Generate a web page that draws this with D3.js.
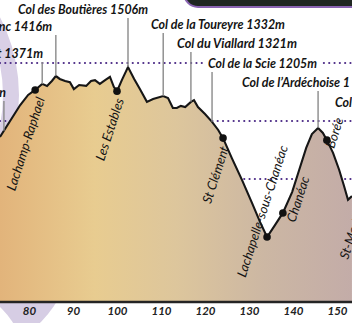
<!DOCTYPE html>
<html><head><meta charset="utf-8">
<script src="https://cdn.jsdelivr.net/npm/d3@7"></script>
<style>html,body{margin:0;padding:0;background:#fff;overflow:hidden}</style>
</head><body>
<svg id="c" width="352" height="323"></svg>
<script>
// ---------- DATA ----------
const profileKm = [73.4,75.7,78.0,79.8,81.4,83.0,84.1,85.2,86.1,87.0,88.2,89.3,90.2,91.4,93.0,94.1,95.0,96.1,97.3,98.4,99.3,100.0,101.1,102.5,103.9,105.2,106.8,108.2,110.5,111.6,112.7,113.6,114.5,115.5,116.8,117.5,118.4,120.0,121.6,123.0,124.1,126.1,128.4,130.7,132.5,134.1,135.9,137.7,139.8,141.4,143.0,144.3,145.7,146.8,147.7,149.1,150.5,151.6,152.5,153.4];
const profileElev = [1145,1200,1255,1290,1307,1328,1321,1338,1355,1345,1338,1334,1310,1324,1321,1338,1341,1328,1341,1352,1317,1303,1341,1386,1345,1310,1266,1276,1286,1279,1245,1245,1252,1248,1266,1272,1248,1224,1197,1169,1141,1072,997,917,852,800,841,883,955,1031,1107,1155,1176,1159,1134,1090,1031,976,928,941];
const gridElev = [1000,1200,1400];
const axisTicks = [80,90,100,110,120,130,140,150];
const colNames = ["Col des Boutières 1506m","nc 1416m","t 1371m","n","Col de la Toureyre 1332m","Col du Viallard 1321m","Col de la Scie 1205m","Col de l’Ardéchoise 1","Col"];
const colKm = [102.5,86.1,83.0,74.3,110.5,116.8,121.6,145.7,null];
const townNames = ["Lachamp-Raphael","Les Estables","St Clément","Lachapelle-sous-Chanéac","Chanéac","Borée","St-Martial"];
const townKm = [81.4,100.0,124.1,134.1,137.7,147.7,null];

// ---------- LAYOUT ----------
const W = 352, H = 323, baseY = 302;
const colLayout = [
  {a:"start", x:18,  y:14, w:130},
  {a:"end",   x:52,  y:31},
  {a:"end",   x:43,  y:58},
  {a:"end",   x:6,   y:97},
  {a:"start", x:151, y:29, w:134},
  {a:"start", x:177, y:48, w:120},
  {a:"start", x:208, y:68, w:109, bg:true},
  {a:"start", x:242, y:87},
  {a:"start", x:335, y:107}
];
const townLayout = [
  {a:"end", x:45, y:99},
  {a:"end", x:124, y:100},
  {a:"end", x:229, y:148},
  {a:"end", x:288, y:147},
  {a:"start", x:295, y:223},
  {a:"start", x:334, y:149},
  {a:"start", x:348, y:260}
];

const svg = d3.select("#c");
const x = d3.scaleLinear().domain([80,150]).range([29,337]);
const y = d3.scaleLinear().domain([1000,1400]).range([179,63]);
const profile = profileKm.map((k,i)=>({k, e:profileElev[i]}));
const bis = d3.bisector(d=>d.k).left;
function elevAt(k){
  let i = bis(profile,k);
  if(i<=0) return profile[0].e;
  if(i>=profile.length) return profile[profile.length-1].e;
  const a=profile[i-1], b=profile[i];
  return a.e + (b.e-a.e)*(k-a.k)/(b.k-a.k);
}

svg.append("rect").attr("width",W).attr("height",H).attr("fill","#fff");

const defs = svg.append("defs");
const g = defs.append("linearGradient").attr("id","fillg").attr("gradientUnits","userSpaceOnUse")
  .attr("x1",0).attr("x2",W).attr("y1",0).attr("y2",0);
[["0","#e2b47b"],["0.27","#e8cc90"],["0.5","#ddc69c"],["0.75","#ccb7a3"],["1","#c3aca8"]]
  .forEach(s=>g.append("stop").attr("offset",s[0]).attr("stop-color",s[1]));

// decorations: lavender ring top-left, crescent bottom-left, dark photo top
const arcTL = d3.arc()({innerRadius:153, outerRadius:169, startAngle:0, endAngle:2*Math.PI});
svg.append("path").attr("d",arcTL).attr("transform","translate(-150,95)").attr("fill","#d9d0e6");
svg.append("circle").attr("cx",-30).attr("cy",250).attr("r",101).attr("fill","#d6cde4");
svg.append("circle").attr("cx",-60).attr("cy",370).attr("r",87).attr("fill","#fff");
svg.append("rect").attr("x",184).attr("y",-30).attr("width",200).attr("height",37).attr("rx",14)
  .attr("fill","#1f2722").attr("stroke","#8a64b2").attr("stroke-width",2);

// gridlines (dotted)
svg.append("g").selectAll("line").data(gridElev).join("line")
  .attr("x1",0).attr("x2",W).attr("y1",d=>y(d)).attr("y2",d=>y(d))
  .attr("stroke","#4b2a86").attr("stroke-width",2.2).attr("stroke-linecap","round")
  .attr("stroke-dasharray","0.01 5.3");

// area + line
const area = d3.area().x(d=>x(d.k)).y0(baseY).y1(d=>y(d.e));
const line = d3.line().x(d=>x(d.k)).y(d=>y(d.e));
svg.append("path").attr("d",area(profile)).attr("fill","url(#fillg)");
svg.append("path").attr("d",line(profile)).attr("fill","none").attr("stroke","#161616")
  .attr("stroke-width",2.1).attr("stroke-linejoin","miter");

// axis
svg.append("line").attr("x1",0).attr("x2",W).attr("y1",baseY).attr("y2",baseY)
  .attr("stroke","#242424").attr("stroke-width",2.4);
const ax = svg.append("g").attr("transform",`translate(0,${baseY})`)
  .call(d3.axisBottom(x).tickValues(axisTicks).tickSize(0).tickPadding(5));
ax.select(".domain").remove();
ax.selectAll("text").attr("font-family","Lato, sans-serif").attr("font-style","italic")
  .attr("font-weight","700").attr("font-size","11.5px").attr("fill","#222").attr("dy","0.71em");

// col ticks
const cols = colNames.map((n,i)=>({n, k:colKm[i], L:colLayout[i]}));
svg.append("g").selectAll("line").data(cols.filter(d=>d.k!=null)).join("line")
  .attr("x1",d=>x(d.k)).attr("x2",d=>x(d.k))
  .attr("y1",d=>d.L.y+4).attr("y2",d=>y(elevAt(d.k)))
  .attr("stroke","#8a8a8a").attr("stroke-width",1.4);

// town markers
const towns = townNames.map((n,i)=>({n, k:townKm[i], L:townLayout[i]}));
svg.append("g").selectAll("circle").data(towns.filter(d=>d.k!=null)).join("circle")
  .attr("cx",d=>x(d.k)).attr("cy",d=>y(elevAt(d.k))).attr("r",3.8).attr("fill","#111");

// col labels
const cg = svg.append("g");
const colTexts = cg.selectAll("text").data(cols).join("text")
  .attr("x",d=>d.L.x).attr("y",d=>d.L.y).attr("text-anchor",d=>d.L.a)
  .attr("font-family","Lato, sans-serif").attr("font-style","italic").attr("font-weight","700")
  .attr("font-size","13px").attr("fill","#141414").text(d=>d.n);
let ratios=[];
colTexts.each(function(d){ if(d.L.w){ ratios.push(d.L.w/this.getComputedTextLength()); } });
const r = d3.mean(ratios);
colTexts.each(function(d){
  const tw = d.L.w || this.getComputedTextLength()*r;
  d3.select(this).attr("textLength",tw).attr("lengthAdjust","spacingAndGlyphs");
});
colTexts.each(function(d){
  if(d.L.bg){
    const b=this.getBBox();
    cg.insert("rect",()=>this).attr("x",b.x-3).attr("y",b.y).attr("width",b.width+6).attr("height",b.height).attr("fill","#fff");
  }
});

// town labels
svg.append("g").selectAll("text").data(towns).join("text")
  .attr("transform",d=>`translate(${d.L.x},${d.L.y}) rotate(-72)`)
  .attr("text-anchor",d=>d.L.a)
  .attr("font-family","Lato, sans-serif").attr("font-style","italic").attr("font-weight","400")
  .attr("font-size","13px").attr("fill","#141414").text(d=>d.n);
</script>
</body></html>
